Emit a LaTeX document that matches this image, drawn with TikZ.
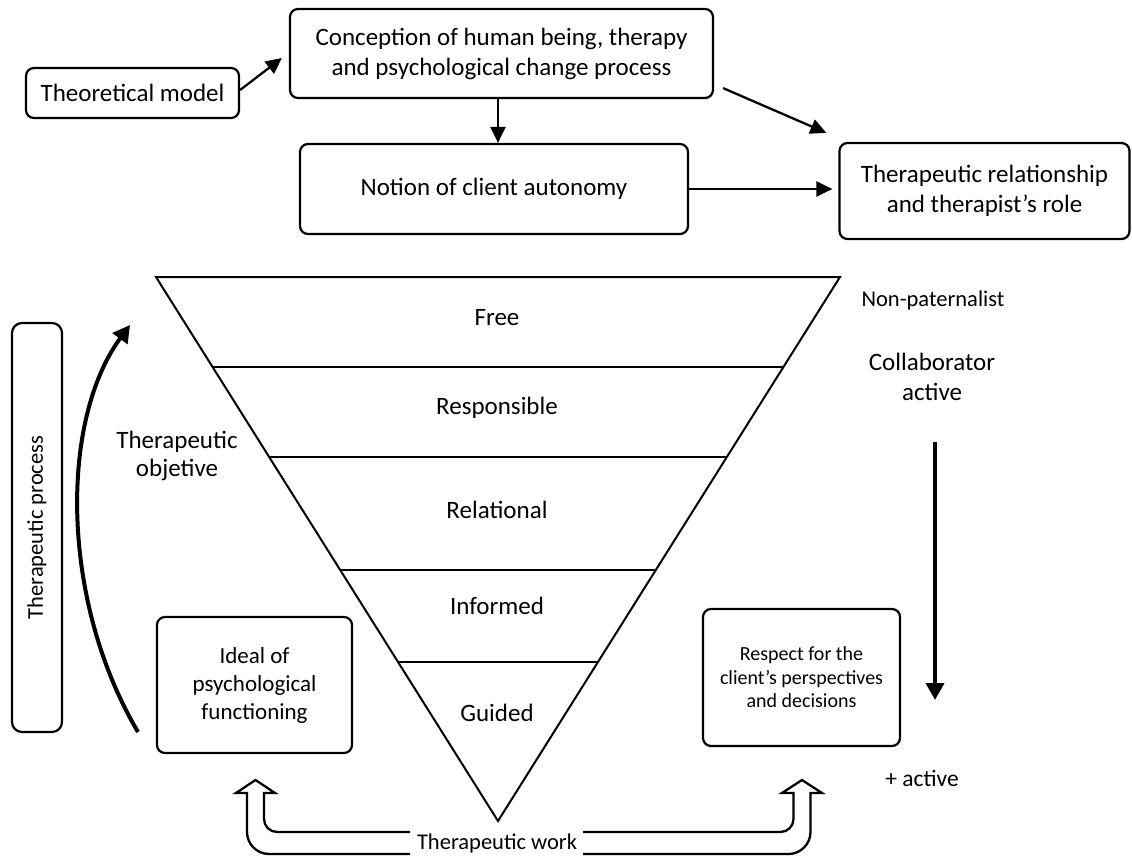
\documentclass[tikz,border=0pt]{standalone}
\usepackage{fontspec}
\setmainfont{Carlito}
\usetikzlibrary{arrows.meta,calc}
\tikzset{
  box/.style={draw,line width=2.2pt,rounded corners=8pt,align=center,inner sep=0pt,font=\fontsize{25}{30}\selectfont},
  lbl/.style={align=center,inner sep=0pt,font=\fontsize{25}{30}\selectfont},
  arr/.style={line width=2.3pt,-{Triangle[length=16pt,width=15pt]}},
  bigarr/.style={line width=4pt,-{Triangle[length=17pt,width=18pt]}},
  tri/.style={line width=2pt},
  hollow/.style={line width=2.3pt,line join=miter}
}
\begin{document}
\begin{tikzpicture}[x=1pt,y=-1pt]
\useasboundingbox (0,0) rectangle (1132,856);
% top boxes
\node[box,minimum width=213pt,minimum height=50pt] (tm) at (132.5,93) {Theoretical model};
\node[box,minimum width=423pt,minimum height=89pt] (con) at (501.5,53.5) {Conception of human being, therapy\\and psychological change process};
\node[box,minimum width=388pt,minimum height=90pt] (notion) at (494,189) {Notion of client autonomy};
\node[box,minimum width=290pt,minimum height=96pt] (rel) at (984.5,191) {Therapeutic relationship\\and therapist’s role};
% top arrows
\draw[arr] ([yshift=3pt]tm.east) -- ([xshift=-7pt,yshift=-4.5pt]con.west);
\draw[arr] ([xshift=-3.5pt]con.south) -- ([xshift=-3.5pt]con.south |- notion.north);
\draw[arr] ([xshift=9pt,yshift=11pt]con.south east) -- ([xshift=-12pt,yshift=9pt]rel.north west);
\draw[arr] (notion.east) -- ([xshift=-6pt]notion.east -| rel.west);
% triangle
\coordinate (A) at (156,277);
\coordinate (B) at (840,277);
\coordinate (C) at (498,821);
\draw[tri,line join=miter] (A) -- (B) -- (C) -- cycle;
\draw[tri] ($(A)!0.1654!(C)$) -- ($(B)!0.1654!(C)$);
\draw[tri] ($(A)!0.3309!(C)$) -- ($(B)!0.3309!(C)$);
\draw[tri] ($(A)!0.5386!(C)$) -- ($(B)!0.5386!(C)$);
\draw[tri] ($(A)!0.7077!(C)$) -- ($(B)!0.7077!(C)$);
\node[lbl] (free) at (497,318) {Free};
\node[lbl] (resp1) at (497,408) {Responsible};
\node[lbl] (relat) at (497,510) {Relational};
\node[lbl] (inf) at (497,606) {Informed};
\node[lbl] (guid) at (497,713) {Guided};
% left side
\node[draw,line width=2.2pt,rounded corners=10pt,minimum width=50pt,minimum height=409pt,inner sep=0pt] (proc) at (37,527.5) {};
\node[lbl,rotate=90,font=\fontsize{22.5}{27}\selectfont] (proct) at (proc.center) {Therapeutic process};
\coordinate (c1) at (138,732);
\coordinate (c2) at (130,325);
\draw[bigarr] (c1) .. controls (60,600) and (60,420) .. (c2);
\node[lbl,font=\fontsize{25}{28}\selectfont] (obj) at (177,456) {Therapeutic\\objetive};
\node[box,minimum width=195pt,minimum height=136pt,font=\fontsize{23}{28}\selectfont] (ideal) at (254.5,685) {Ideal of\\psychological\\functioning};
% right side
\node[lbl,font=\fontsize{22.5}{27}\selectfont] (np) at (933,300) {Non-paternalist};
\node[lbl] (coll) at (932,377) {Collaborator\\active};
\coordinate (d1) at (935,442);
\coordinate (d2) at (935,700);
\draw[bigarr] (d1) -- (d2);
\node[box,minimum width=197pt,minimum height=137pt,font=\fontsize{20}{23.5}\selectfont] (respect) at (801.5,677.5) {Respect for the\\client’s perspectives\\and decisions};
\node[lbl,font=\fontsize{23.5}{28}\selectfont] (plus) at (922,778) {+ active};
% therapeutic work
\node[lbl,font=\fontsize{22.5}{27}\selectfont] (work) at (497,843) {Therapeutic work};
\draw[hollow] (410,832) -- (277,832) .. controls (269.8,832) and (264,826.2) .. (264,819) -- (264,793) -- (275,793) -- (255.5,780) -- (236,793) -- (247,793) -- (247,832) .. controls (247,844.1) and (256.9,854) .. (269,854) -- (410,854);
\draw[hollow] (583,832) -- (780.5,832) .. controls (787.7,832) and (793.5,826.2) .. (793.5,819) -- (793.5,793) -- (782,793) -- (802,780) -- (822,793) -- (810.5,793) -- (810.5,832) .. controls (810.5,844.1) and (800.6,854) .. (788.5,854) -- (583,854);
\end{tikzpicture}
\end{document}
